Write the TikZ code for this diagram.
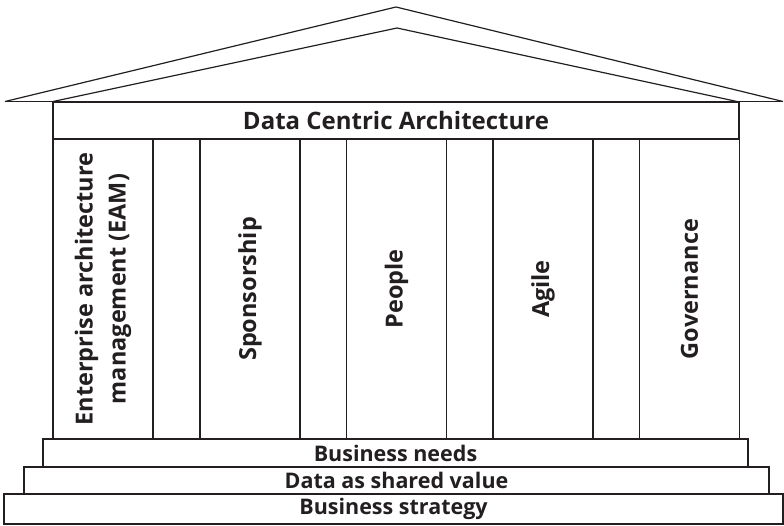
\documentclass[tikz,border=0pt]{standalone}
\usepackage{fontspec}
\setmainfont{Open Sans}
\definecolor{ink}{HTML}{231F20}
\begin{document}
\begin{tikzpicture}[x=1pt,y=-1pt,
  edge/.style={draw=ink, line width=1.4pt},
  block/.style={edge, inner sep=0pt, outer sep=0pt, text=ink,
    font=\bfseries\fontsize{21.5}{24}\selectfont},
  pillar/.style={block, minimum width=100pt, minimum height=300pt},
  tag/.style={text=ink, font=\bfseries\fontsize{23.5}{33}\selectfont,
    rotate=90, align=center, inner sep=0pt}]
\useasboundingbox (0,0) rectangle (784,525);

% roof
\coordinate (eaveL) at (5,101.5);
\coordinate (eaveR) at (783,101.5);
\coordinate (ridge) at (396,7);
\coordinate (innerL) at (53,101.5);
\coordinate (innerR) at (737,101.5);
\coordinate (innerRidge) at (397,28);
\draw[draw=ink, line width=0.8pt] (eaveL) -- (eaveR);
\draw[draw=ink, line width=1.2pt, line join=miter] (eaveL) -- (ridge) -- (eaveR);
\draw[draw=ink, line width=1.2pt, line join=miter] (innerL) -- (innerRidge) -- (innerR);

% entablature
\node[block, minimum width=686pt, minimum height=37pt,
  font=\bfseries\fontsize{24}{28}\selectfont] (arch) at (396,120.5)
  {Data Centric Architecture};

% pillars
\node[pillar] (p1) at (103,289) {};
\node[pillar] (p2) at (250,289) {};
\node[pillar] (p3) at (396.5,289) {};
\node[pillar] (p4) at (543,289) {};
\node[pillar] (p5) at (689.5,289) {};
\node[tag] (t1) at (p1.center) {Enterprise architecture\\management (EAM)};
\node[tag] (t2) at (p2.center) {Sponsorship};
\node[tag] (t3) at (p3.center) {People};
\node[tag] (t4) at (p4.center) {Agile};
\node[tag] (t5) at (p5.center) {Governance};

% steps
\node[block, minimum width=705pt, minimum height=28pt] (needs) at (395.5,453)
  {Business needs};
\node[block, minimum width=745pt, minimum height=27pt] (shared) at (396.5,480.5)
  {Data as shared value};
\node[block, minimum width=779pt, minimum height=30pt] (strategy) at (393.5,509)
  {Business strategy};
\end{tikzpicture}
\end{document}
